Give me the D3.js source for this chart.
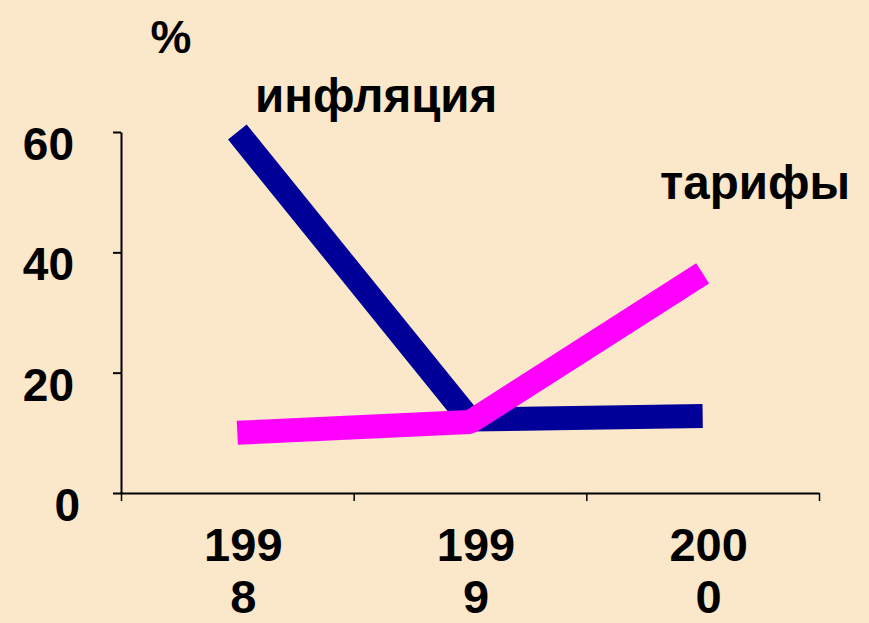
<!DOCTYPE html>
<html>
<head>
<meta charset="utf-8">
<script src="https://cdn.jsdelivr.net/npm/d3@7"></script>
<style>
  html, body { margin: 0; padding: 0; background: #fbe7c9; }
  svg { display: block; }
  text { font-family: "Liberation Sans", Arial, sans-serif; font-weight: bold; fill: #000; }
</style>
</head>
<body>
<div class="chart"></div>
<script>
// Data
const years = ['1998', '1999', '2000'];
const inflation = [60, 12.2, 12.8];
const tariffs = [10, 11.8, 36.5];
const yTicks = [0, 20, 40, 60];

const W = 869, H = 623;
const plot = { left: 121, right: 819, top: 132, bottom: 493 };

const svg = d3.select('.chart')
    .append('svg')
    .attr('width', W)
    .attr('height', H);

svg.append('rect')
    .attr('width', W)
    .attr('height', H)
    .attr('fill', '#fbe7c9');

// Scales
const x = d3.scalePoint()
    .domain(years)
    .range([plot.left, plot.right])
    .padding(0.5);

const y = d3.scaleLinear()
    .domain([0, 60])
    .range([plot.bottom, plot.top]);

// tick positions on the x axis sit on category boundaries
const xEdges = d3.scaleLinear()
    .domain([0, years.length])
    .range([plot.left, plot.right]);

// Axes
const yAxis = svg.append('g')
    .attr('transform', `translate(${plot.left},0)`)
    .call(d3.axisLeft(y).tickValues(yTicks).tickSize(8).tickSizeOuter(0).tickFormat(''));
yAxis.select('.domain').attr('stroke-width', 2);
yAxis.selectAll('.tick line').attr('stroke-width', 2);

const xAxis = svg.append('g')
    .attr('transform', `translate(0,${plot.bottom})`)
    .call(d3.axisBottom(xEdges).tickValues(d3.range(years.length + 1)).tickSize(8).tickSizeOuter(0).tickFormat(''));
xAxis.select('.domain').attr('stroke-width', 2);
xAxis.selectAll('.tick line').attr('stroke-width', 1.5);

// Y tick labels
svg.selectAll('.ylab')
    .data(yTicks)
    .enter()
    .append('text')
    .attr('class', 'ylab')
    .attr('x', d => d === 0 ? 80 : 74)
    .attr('y', d => y(d) + 28)
    .attr('text-anchor', 'end')
    .attr('font-size', 46)
    .text(d => d);

// X category labels, split over two lines
const xl = svg.selectAll('.xlab')
    .data(years)
    .enter()
    .append('text')
    .attr('class', 'xlab')
    .attr('text-anchor', 'middle')
    .attr('font-size', 47);
xl.append('tspan')
    .attr('x', d => x(d) + 6)
    .attr('y', 561)
    .text(d => d.slice(0, 3));
xl.append('tspan')
    .attr('x', d => x(d) + 6)
    .attr('y', 613)
    .text(d => d.slice(3));

// Lines
const line = d3.line()
    .x((d, i) => x(years[i]))
    .y(d => y(d));

svg.append('path')
    .datum(inflation)
    .attr('d', line)
    .attr('fill', 'none')
    .attr('stroke', '#000099')
    .attr('stroke-width', 24)
    .attr('stroke-linecap', 'butt')
    .attr('stroke-linejoin', 'bevel');

svg.append('path')
    .datum(tariffs)
    .attr('d', line)
    .attr('fill', 'none')
    .attr('stroke', '#ff00ff')
    .attr('stroke-width', 24)
    .attr('stroke-linecap', 'butt')
    .attr('stroke-linejoin', 'bevel');

// Titles / series labels
svg.append('text')
    .attr('x', 171)
    .attr('y', 53)
    .attr('text-anchor', 'middle')
    .attr('font-size', 46)
    .text('%');

svg.append('text')
    .attr('x', 255)
    .attr('y', 112)
    .attr('font-size', 47.5)
    .text('инфляция');

svg.append('text')
    .attr('x', 660)
    .attr('y', 199)
    .attr('font-size', 47.5)
    .text('тарифы');
</script>
</body>
</html>
